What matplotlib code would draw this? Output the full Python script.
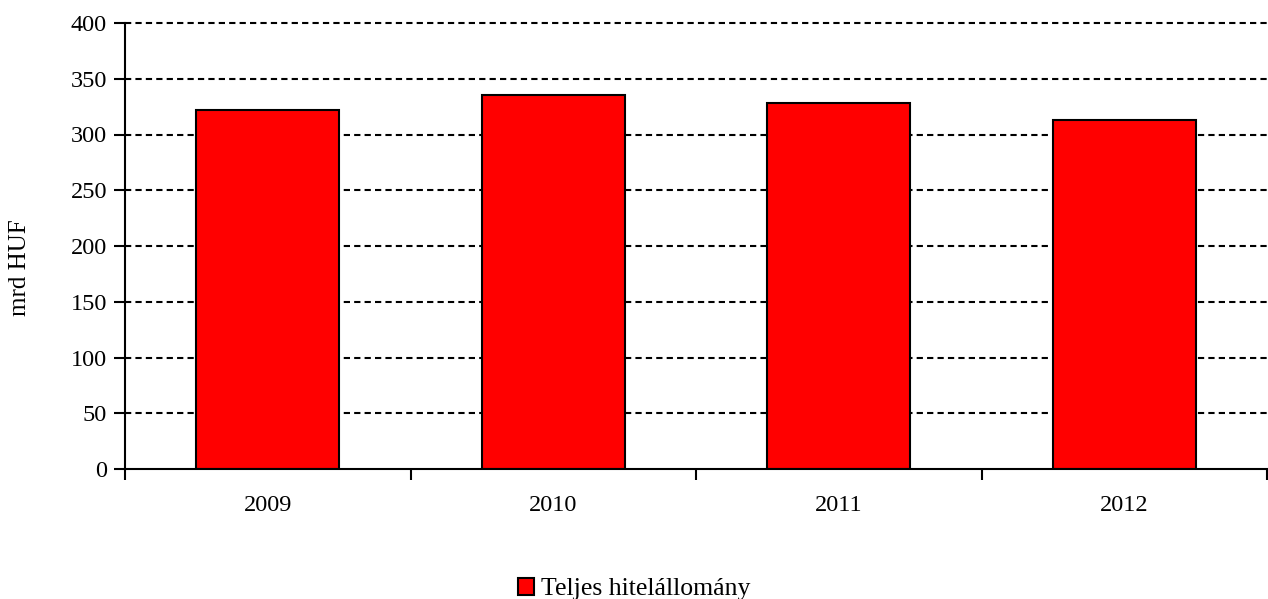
import matplotlib
matplotlib.use("Agg")
import matplotlib.pyplot as plt
import numpy as np

plt.rcParams["font.family"] = ["Liberation Serif", "DejaVu Serif"]

YEARS = ["2009", "2010", "2011", "2012"]
CREDIT = [322, 335, 328, 313]
SERIES_NAME = "Teljes hitelállomány"
Y_TICKS = list(range(0, 401, 50))

W, H = 1268, 599
fig = plt.figure(figsize=(W / 100, H / 100), dpi=100)
ax = fig.add_axes([125 / W, 1 - 469 / H, 1142 / W, 446 / H])

x = np.arange(len(YEARS))
ax.bar(x, CREDIT, width=0.5, color="#ff0000", edgecolor="black",
       linewidth=1.5, label=SERIES_NAME, zorder=3)

ax.set_xlim(-0.5, len(YEARS) - 0.5)
ax.set_ylim(0, 400)
ax.set_yticks(Y_TICKS)
# dashed horizontal grid (Excel style)
for v in Y_TICKS[1:]:
    ax.axhline(v, color="black", linestyle=(0, (3, 2)), linewidth=1.5,
               zorder=1, clip_on=False)

# ticks between categories, labels centred under bars
ax.set_xticks(np.arange(len(YEARS) + 1) - 0.5)
ax.set_xticklabels([])
ax.set_xticks(x, minor=True)
ax.set_xticklabels(YEARS, minor=True)
ax.tick_params(axis="x", which="major", direction="out", length=8, width=1.5)
ax.tick_params(axis="x", which="minor", length=0, pad=19, labelsize=17.5)
ax.tick_params(axis="y", direction="out", length=8, width=1.5, labelsize=17.5, pad=5)

for side in ["top", "right"]:
    ax.spines[side].set_visible(False)
for side in ["left", "bottom"]:
    ax.spines[side].set_linewidth(1.5)
    ax.spines[side].set_zorder(4)

ax.set_ylabel("mrd HUF", fontsize=18)
ax.yaxis.set_label_coords((31 - 125) / 1142, (469 - 268) / 446)

fig.legend(loc="center", bbox_to_anchor=(0.5, 1 - 589 / H), frameon=False,
           fontsize=18.5, handlelength=0.65, handleheight=0.65, handletextpad=0.25,
           borderpad=0, borderaxespad=0)

fig.savefig("out.png", dpi=100)
